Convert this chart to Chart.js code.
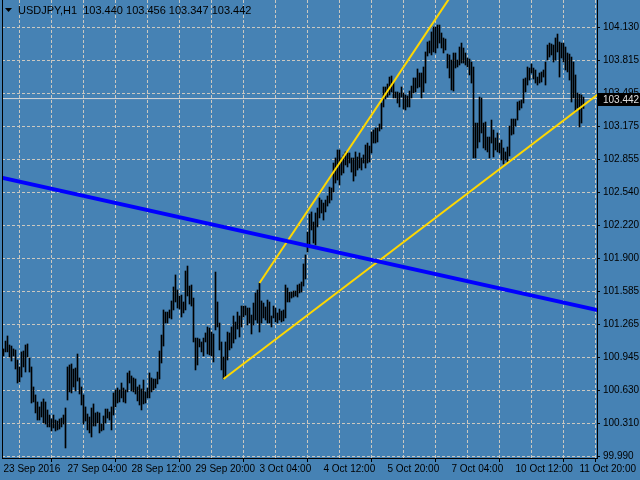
<!DOCTYPE html>
<html>
<head>
<meta charset="utf-8">
<title>USDJPY,H1</title>
<script src="https://cdn.jsdelivr.net/npm/chart.js@4.4.0/dist/chart.umd.min.js"></script>
<style>
    html, body { margin: 0; padding: 0; background: #4682b4; }
    #wrap { width: 640px; height: 480px; }
</style>
</head>
<body>
<div id="wrap"><canvas id="priceChart" width="640" height="480"></canvas></div>
<script>
var symbolName = 'USDJPY,H1';
var lastQuote = [103.440, 103.456, 103.347, 103.442]; // open, high, low, close

// H1 bars, oldest first
var barHigh = [
    101.026, 101.102, 101.151, 101.064, 101.054, 101.026, 101.016, 100.919, 100.852, 100.997,
    101.006, 101.064, 101.074, 100.939, 100.852, 100.659, 100.582, 100.514, 100.466, 100.514,
    100.543, 100.514, 100.437, 100.388, 100.350, 100.388, 100.340, 100.330, 100.350, 100.359,
    100.388, 100.456, 100.852, 100.871, 100.881, 100.832, 100.842, 100.977, 100.746, 100.659,
    100.582, 100.466, 100.398, 100.369, 100.456, 100.495, 100.408, 100.417, 100.408, 100.301,
    100.379,
    100.446, 100.446, 100.417, 100.466, 100.601, 100.630, 100.649, 100.630, 100.697, 100.649,
    100.630, 100.794, 100.813, 100.765, 100.746, 100.736, 100.659, 100.678, 100.640, 100.726,
    100.611, 100.649, 100.794, 100.746, 100.736, 100.736, 100.803, 101.006, 101.160, 101.402,
    101.382, 101.382, 101.402, 101.489, 101.624, 101.740, 101.595, 101.537, 101.546, 101.479,
    101.778, 101.826, 101.633, 101.643, 101.517, 101.131, 101.131, 101.122, 101.093, 101.131,
    101.180, 101.238, 101.228, 101.189, 101.170,
    101.768, 101.479, 101.276, 101.093, 100.948, 101.093, 101.189, 101.180, 101.238, 101.344,
    101.286, 101.382, 101.344, 101.440, 101.440, 101.440, 101.421, 101.421, 101.353, 101.469,
    101.566, 101.595, 101.662, 101.489, 101.469, 101.431, 101.498, 101.479, 101.344, 101.440,
    101.421, 101.373, 101.411, 101.392, 101.402, 101.643, 101.614, 101.575, 101.575, 101.585,
    101.585, 101.643, 101.653, 101.672, 101.846, 101.933, 102.154, 102.328,
    102.348, 102.251, 102.338, 102.386, 102.483, 102.463, 102.434, 102.463, 102.502, 102.588,
    102.579, 102.820, 102.869, 102.946, 102.946, 102.869, 102.898, 102.927, 102.917, 102.917,
    102.869, 102.869, 102.927, 102.878, 102.917, 102.869, 102.898, 102.994, 103.013, 102.984,
    103.120, 103.139, 103.158, 103.158, 103.197, 103.399, 103.554, 103.554, 103.583, 103.650,
    103.660, 103.602, 103.506, 103.506, 103.496, 103.554, 103.496, 103.477, 103.467, 103.515,
    103.563, 103.641, 103.641, 103.728, 103.689, 103.689, 103.747,
    103.892, 103.988, 103.998, 104.085, 104.133, 104.133, 104.152, 104.152, 104.075, 104.027,
    104.017, 103.872, 103.863, 103.814, 103.882, 103.882, 103.814, 103.940, 103.978, 103.930,
    103.882, 103.834, 103.824, 103.795, 103.747, 103.206, 103.206, 103.457, 103.448, 103.206,
    103.216, 103.071, 103.071, 103.235, 103.139, 103.062, 103.110, 103.013, 103.042, 102.965,
    102.927, 102.975, 103.177, 103.245, 103.245, 103.245, 103.409, 103.419, 103.428, 103.631,
    103.641, 103.747, 103.737, 103.776, 103.737, 103.718, 103.650, 103.689, 103.699, 103.718,
    103.795, 103.959, 103.978, 103.969, 103.959, 104.027, 104.065, 103.988, 103.978, 103.978,
    103.940, 103.882, 103.872, 103.843, 103.795, 103.670, 103.496, 103.486, 103.477, 103.456
];
var barLow = [
    100.958, 100.997, 100.997, 100.948, 100.909, 100.958, 100.832, 100.697, 100.707, 100.755,
    100.852, 100.803, 100.948, 100.803, 100.504, 100.514, 100.408, 100.340, 100.340, 100.369,
    100.311, 100.301, 100.273, 100.273, 100.234, 100.263, 100.234, 100.244, 100.253, 100.273,
    100.301, 100.070, 100.533, 100.611, 100.601, 100.659, 100.620, 100.716, 100.591, 100.485,
    100.301, 100.330, 100.244, 100.215, 100.176, 100.282, 100.282, 100.311, 100.215, 100.234,
    100.244,
    100.311, 100.359, 100.340, 100.244, 100.388, 100.466, 100.504, 100.514, 100.553, 100.514,
    100.504, 100.611, 100.697, 100.620, 100.611, 100.591, 100.524, 100.485, 100.437, 100.495,
    100.504, 100.553, 100.553, 100.611, 100.630, 100.649, 100.688, 100.736, 100.890, 101.054,
    101.276, 101.276, 101.325, 101.315, 101.402, 101.479, 101.421, 101.411, 101.334, 101.373,
    101.402, 101.537, 101.459, 101.440, 101.093, 100.823, 100.871, 101.045, 100.997, 100.958,
    101.093, 100.977, 100.968, 100.958, 100.900,
    101.209, 101.238, 101.016, 100.823, 100.736, 100.755, 100.919, 101.016, 101.035, 101.083,
    101.122, 101.218, 101.141, 101.238, 101.334, 101.353, 101.257, 101.276, 101.170, 101.257,
    101.305, 101.276, 101.189, 101.276, 101.325, 101.305, 101.276, 101.276, 101.238, 101.325,
    101.286, 101.276, 101.305, 101.286, 101.296, 101.325, 101.479, 101.479, 101.517, 101.527,
    101.537, 101.527, 101.566, 101.575, 101.633, 101.701, 101.961, 102.010,
    102.174, 102.048, 102.029, 102.203, 102.290, 102.338, 102.270, 102.348, 102.405, 102.434,
    102.463, 102.540, 102.627, 102.656, 102.608, 102.704, 102.724, 102.801, 102.782, 102.820,
    102.733, 102.646, 102.695, 102.753, 102.772, 102.753, 102.820, 102.772, 102.820, 102.830,
    102.917, 103.013, 103.013, 103.023, 103.129, 103.149, 103.361, 103.438, 103.457, 103.477,
    103.506, 103.448, 103.448, 103.399, 103.361, 103.457, 103.342, 103.332, 103.361, 103.361,
    103.448, 103.496, 103.506, 103.544, 103.554, 103.448, 103.506,
    103.592, 103.853, 103.882, 103.863, 103.892, 103.882, 103.930, 103.978, 103.930, 103.882,
    103.911, 103.737, 103.641, 103.525, 103.515, 103.737, 103.747, 103.766, 103.785, 103.785,
    103.766, 103.747, 103.670, 103.592, 102.869, 102.869, 102.965, 103.023, 103.110, 102.965,
    102.946, 102.927, 102.869, 103.013, 102.878, 102.946, 102.927, 102.917, 102.849, 102.811,
    102.849, 102.830, 102.888, 103.090, 103.100, 103.177, 103.235, 103.332, 103.351, 103.399,
    103.506, 103.573, 103.621, 103.689, 103.631, 103.592, 103.573, 103.592, 103.602, 103.650,
    103.573, 103.814, 103.843, 103.863, 103.795, 103.814, 103.892, 103.650, 103.834, 103.795,
    103.718, 103.699, 103.621, 103.409, 103.448, 103.313, 103.351, 103.168, 103.206, 103.347
];

// time labels, one every 32 bars (grid every 16)
var xLabels = ['23 Sep 2016', '27 Sep 04:00', '28 Sep 12:00', '29 Sep 20:00', '3 Oct 04:00',
    '4 Oct 12:00', '5 Oct 20:00', '7 Oct 04:00', '10 Oct 12:00', '11 Oct 20:00'];
var yTickLabels = ['99.990', '100.310', '100.630', '100.945', '101.265', '101.585', '101.900',
    '102.220', '102.540', '102.855', '103.175', '103.495', '103.815', '104.130'];

// trend lines as [bar index, price]
var blueLine = [[-5, 102.696], [300, 101.388]];
var yellowUpper = [[128, 101.662], [240, 104.904]];
var yellowLower = [[110, 100.736], [300, 103.525]];

var yMin = 99.9733, yMax = 104.3935;
var yTickBase = 99.990, yTickStep = (104.130 - 99.990) / 13;
var gridColor = '#cbc8c0';
var fontFamily = "'Liberation Sans', Arial, sans-serif";
var fontSpec = '10px ' + fontFamily;

function toPoints(line) {
    return line.map(function (p) { return { x: p[0], y: p[1] }; });
}

// keep the plot area fixed: no extra room for overflowing labels
function fixScale(s, size) {
    if (s.isHorizontal()) s.height = size; else s.width = size;
    s.paddingTop = 0;
    s.paddingBottom = 0;
    s.paddingLeft = 0;
    s.paddingRight = 0;
}

var chartDecor = {
    id: 'chartDecor',
    beforeDraw: function (chart) {
        var ctx = chart.ctx;
        ctx.save();
        ctx.fillStyle = '#4682b4';
        ctx.fillRect(0, 0, chart.width, chart.height);
        ctx.restore();
    },
    afterDraw: function (chart) {
        var ctx = chart.ctx, area = chart.chartArea;
        var yScale = chart.scales.y;
        ctx.save();
        // frame
        ctx.fillStyle = '#000';
        ctx.fillRect(area.left, area.top, 1, area.bottom - area.top + 1);
        ctx.fillRect(area.left, area.bottom, area.right - area.left + 1, 1);
        ctx.fillRect(area.right, area.top, 1, area.bottom - area.top + 1);

        // last price tag
        var py = Math.round(yScale.getPixelForValue(lastQuote[3]));
        ctx.fillRect(area.right + 1, py - 6, chart.width - area.right - 1, 13);
        ctx.fillStyle = '#e0e0e0';
        ctx.font = fontSpec;
        ctx.textBaseline = 'middle';
        ctx.fillText(lastQuote[3].toFixed(3), area.right + 6, py + 1);

        // header
        ctx.fillStyle = '#000';
        ctx.beginPath();
        ctx.moveTo(5, 8);
        ctx.lineTo(12, 8);
        ctx.lineTo(8.5, 12);
        ctx.closePath();
        ctx.fill();
        ctx.font = '11px ' + fontFamily;
        var quoteText = lastQuote.map(function (v) { return v.toFixed(3); }).join(' ');
        ctx.fillText(symbolName + '  ' + quoteText, 18, 11);
        ctx.restore();
    }
};

var ctx = document.getElementById('priceChart').getContext('2d');
var priceChart = new Chart(ctx, {
    type: 'bar',
    data: {
        datasets: [{
            type: 'line',
            data: toPoints(blueLine),
            borderColor: '#0000ff',
            borderWidth: 4,
            pointRadius: 0,
            clip: 0,
            order: 1
        }, {
            type: 'line',
            data: toPoints(yellowUpper),
            borderColor: '#ffd700',
            borderWidth: 2,
            pointRadius: 0,
            clip: 0,
            order: 1
        }, {
            type: 'line',
            data: toPoints(yellowLower),
            borderColor: '#ffd700',
            borderWidth: 2,
            pointRadius: 0,
            clip: 0,
            order: 1
        }, {
            data: barLow.map(function (low, i) { return { x: i, y: [low, barHigh[i]] }; }),
            backgroundColor: '#000',
            borderWidth: 0,
            barThickness: 1,
            order: 2
        }, {
            type: 'line',
            data: [{ x: -5, y: lastQuote[3] }, { x: 300, y: lastQuote[3] }],
            borderColor: '#d8d8d8',
            borderWidth: 1,
            pointRadius: 0,
            clip: 0,
            order: 3
        }]
    },
    options: {
        responsive: false,
        animation: false,
        events: [],
        layout: { padding: { left: 2, top: 0, right: 0, bottom: 0 } },
        plugins: {
            legend: { display: false },
            tooltip: { enabled: false }
        },
        scales: {
            x: {
                type: 'linear',
                min: -0.75,
                max: 296.75,
                offset: false,
                afterBuildTicks: function (s) {
                    var t = [];
                    for (var k = 0; k <= 18; k++) t.push({ value: k * 16 });
                    s.ticks = t;
                },
                afterFit: function (s) { fixScale(s, 22); },
                grid: {
                    color: function (c) { return c.index === 0 ? 'rgba(0,0,0,0)' : gridColor; },
                    tickColor: function (c) { return c.index % 2 ? 'rgba(0,0,0,0)' : '#000'; },
                    tickLength: 4,
                    lineWidth: 1
                },
                border: { display: false, dash: [3, 2] },
                ticks: {
                    callback: function (v, k) { return k % 2 ? '' : xLabels[k / 2]; },
                    align: 'start',
                    maxRotation: 0,
                    autoSkip: false,
                    padding: 1,
                    color: '#000',
                    font: { family: fontFamily, size: 10 }
                }
            },
            y: {
                position: 'right',
                min: yMin,
                max: yMax,
                afterBuildTicks: function (s) {
                    s.ticks = yTickLabels.map(function (t, k) { return { value: yTickBase + k * yTickStep }; });
                },
                afterFit: function (s) { fixScale(s, 43); },
                grid: { color: gridColor, tickColor: '#000', tickLength: 3, lineWidth: 1 },
                border: { display: false, dash: [3, 2] },
                ticks: {
                    callback: function (v, k) { return yTickLabels[k]; },
                    autoSkip: false,
                    padding: 3,
                    color: '#000',
                    font: { family: fontFamily, size: 10 }
                }
            }
        }
    },
    plugins: [chartDecor]
});
</script>
</body>
</html>
